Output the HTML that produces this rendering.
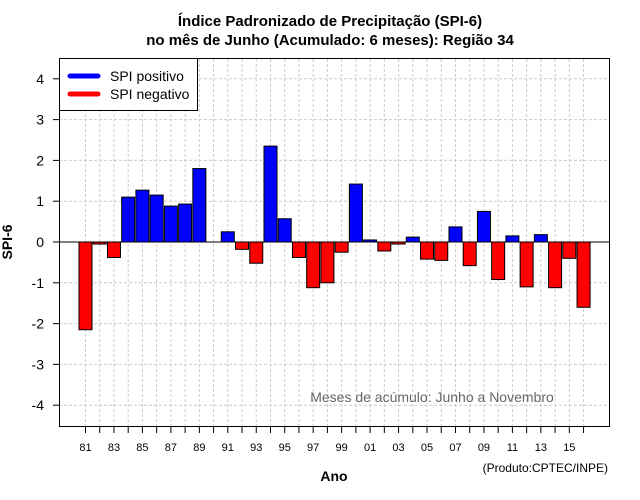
<!DOCTYPE html>
<html><head><meta charset="utf-8"><style>body{margin:0;background:#fff}svg{display:block}</style></head>
<body>
<svg id="chart" width="640" height="500" xmlns="http://www.w3.org/2000/svg" font-family="Liberation Sans, sans-serif">
<rect width="640" height="500" fill="#fff"/>
<text x="330" y="26" text-anchor="middle" font-size="15" font-weight="bold">Índice Padronizado de Precipitação (SPI-6)</text>
<text x="330" y="45" text-anchor="middle" font-size="15" font-weight="bold">no mês de Junho (Acumulado: 6 meses): Região 34</text>
<g id="grid"></g>
<g id="bars"></g>
<line x1="59" x2="609" y1="242" y2="242" stroke="#000" stroke-width="1"/>
<rect x="59.5" y="58.5" width="550" height="368" fill="none" stroke="#000"/>
<g id="axes"></g>
<text transform="translate(12,242) rotate(-90)" text-anchor="middle" font-size="14" font-weight="bold">SPI-6</text>
<text x="334" y="481" text-anchor="middle" font-size="14" font-weight="bold">Ano</text>
<text x="608" y="472" text-anchor="end" font-size="12">(Produto:CPTEC/INPE)</text>
<text x="432" y="402" text-anchor="middle" font-size="14" fill="#666">Meses de acúmulo: Junho a Novembro</text>
<g>
<rect x="59.5" y="58.5" width="138" height="52" fill="#fff" stroke="#000"/>
<line x1="70" x2="98" y1="76" y2="76" stroke="#00f" stroke-width="5" stroke-linecap="round"/>
<text x="110" y="81" font-size="14">SPI positivo</text>
<line x1="70" x2="98" y1="94" y2="94" stroke="#f00" stroke-width="5" stroke-linecap="round"/>
<text x="110" y="99" font-size="14">SPI negativo</text>
</g>
</svg>
<script>
const years = [81,82,83,84,85,86,87,88,89,90,91,92,93,94,95,96,97,98,99,0,1,2,3,4,5,6,7,8,9,10,11,12,13,14,15,16];
const spiValues = [-2.15,-0.05,-0.38,1.1,1.27,1.15,0.88,0.93,1.8,0,0.25,-0.18,-0.52,2.35,0.57,-0.38,-1.12,-1.0,-0.25,1.42,0.05,-0.22,-0.05,0.12,-0.42,-0.45,0.37,-0.58,0.75,-0.92,0.15,-1.1,0.18,-1.12,-0.4,-1.6];
const yTicks = [-4,-3,-2,-1,0,1,2,3,4];
const NS='http://www.w3.org/2000/svg';
const xS = i => 85.5 + i*14.23;
const yS = v => 242 - v*40.8;
function mk(tag, attrs, parent){const e=document.createElementNS(NS,tag);for(const k in attrs)e.setAttribute(k,attrs[k]);parent.appendChild(e);return e;}
const grid=document.getElementById('grid'), bars=document.getElementById('bars'), axes=document.getElementById('axes');
yTicks.forEach(t=>{
  const g=mk('line',{x1:59,x2:609,y1:yS(t),y2:yS(t),stroke:'#ccc','stroke-dasharray':'3,2'},grid);
  
  
  const tk=mk('line',{x1:53,x2:59,y1:yS(t),y2:yS(t),stroke:'#000'},axes);
  
  
  const lb=mk('text',{x:44,y:yS(t)+5,'text-anchor':'end','font-size':14},axes);
  lb.textContent=String(t);
  
  
});
years.forEach((yr,i)=>{
  const x=xS(i);
  const g=mk('line',{x1:x,x2:x,y1:59,y2:426,stroke:'#ccc','stroke-dasharray':'3,2'},grid);
  
  
  const tk=mk('line',{x1:x,x2:x,y1:426,y2:433,stroke:'#000'},axes);
  
  
  if(i%2===0){
    const lb=mk('text',{x:x,y:451,'text-anchor':'middle','font-size':11},axes);
    lb.textContent=String(yr).padStart(2,'0');
    
    
  }
  const v=spiValues[i];
  if(v!==0){
    const y0=yS(Math.max(v,0)), h=Math.abs(yS(v)-yS(0));
    const b=mk('rect',{x:x-6.5,y:y0,width:13,height:h,fill:v>0?'#00f':'#f00',stroke:'#000','stroke-width':1},bars);
    
    
  }
});
</script>
</body></html>
